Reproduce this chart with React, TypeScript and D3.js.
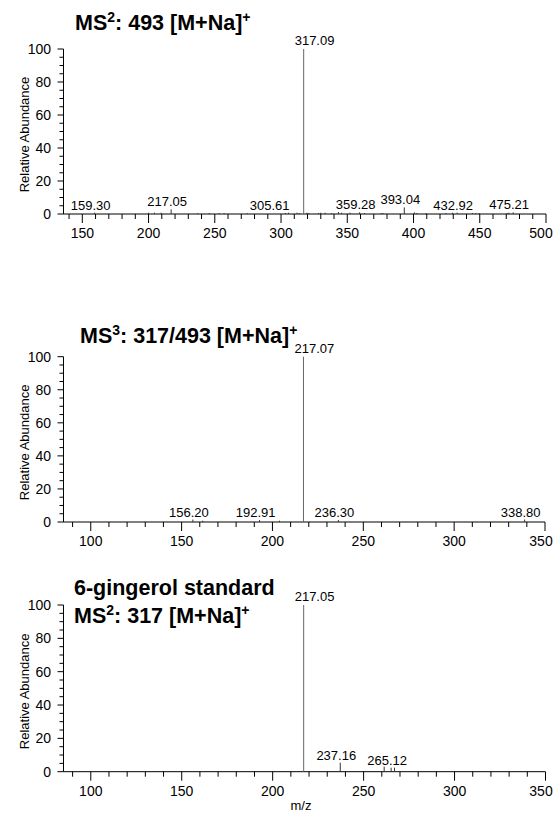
import React from 'react';
import * as d3 from 'd3';

// MS2 of 493 [M+Na]+
const ms2Mz = [159.3, 217.05, 305.61, 317.09, 359.28, 393.04, 432.92, 475.21];
const ms2Abund = [0.8, 2.8, 0.8, 100, 1.0, 4.0, 0.8, 1.0];
const ms2NoiseMz = [200, 204.5, 209.5, 237, 245.8, 253.3, 257, 274.5, 303.3, 312, 313.8, 319.5, 321, 328.3, 330, 333.3, 338.3, 343.3, 345.7, 352, 363, 375.7, 377, 400.7, 402.5, 409.5, 424.5, 429.5, 444.5, 447, 449.5, 470.7, 472];
const ms2NoiseAbund = [0.8, 0.8, 0.8, 0.5, 0.6, 0.6, 0.6, 0.5, 0.6, 0.8, 0.6, 0.8, 0.6, 0.6, 0.8, 0.8, 0.6, 1.2, 0.8, 0.8, 0.6, 0.6, 0.6, 1.0, 0.6, 0.6, 0.6, 0.8, 0.6, 0.6, 0.6, 0.6, 0.8];

// MS3 317/493 [M+Na]+
const ms3Mz = [156.2, 192.91, 217.07, 236.3, 338.8];
const ms3Abund = [1.5, 1.2, 100, 1.2, 1.5];
const ms3NoiseMz = [161.6, 203.9];
const ms3NoiseAbund = [0.8, 0.8];

// 6-gingerol standard MS2 317
const stdMz = [217.05, 237.16, 265.12];
const stdAbund = [100, 5.4, 2.4];
const stdNoiseMz = [261.3, 267.0];
const stdNoiseAbund = [3.0, 2.4];

const ms2XTicks = [150, 200, 250, 300, 350, 400, 450, 500];
const ms3XTicks = [100, 150, 200, 250, 300, 350];
const yTicks = [0, 20, 40, 60, 80, 100];

const FONT = 'Liberation Sans, Arial, Helvetica, sans-serif';

type PanelProps = {
  top: number;
  bottom: number;
  domain: [number, number];
  range: [number, number];
  majorTicks: number[];
  mz: number[];
  abund: number[];
  noiseMz: number[];
  noiseAbund: number[];
};

const Panel = ({ top, bottom, domain, range, majorTicks, mz, abund, noiseMz, noiseAbund }: PanelProps) => {
  const x = d3.scaleLinear().domain(domain).range(range);
  const y = d3.scaleLinear().domain([0, 100]).range([bottom, top]);
  const minorX = d3.range(Math.ceil(domain[0] / 10) * 10, domain[1] + 1, 10).filter(v => v % 50 !== 0);
  const minorY = d3.range(0, 101, 5).filter(v => v % 20 !== 0);
  const baseIdx = d3.maxIndex(abund);
  const bx = x(mz[baseIdx]);

  const labelX = (i: number) => {
    const w = 40;
    let cx = x(mz[i]) - 4;
    if (bx > cx - w / 2 - 3 && bx < cx + w / 2 + 3) {
      cx = cx < bx ? bx - w / 2 - 14 : bx + w / 2 + 14;
    }
    return cx;
  };

  // keep the last tick label inside the page
  const tickLabelX = (t: number) => Math.min(x(t), 553 - 12);

  return (
    <g>
      {/* axes */}
      <line x1={range[0]} x2={range[0]} y1={top} y2={bottom} stroke="#000" />
      <line x1={range[0]} x2={range[1]} y1={bottom} y2={bottom} stroke="#000" />
      {yTicks.map(t => (
        <g key={'y' + t}>
          <line x1={range[0] - 6} x2={range[0]} y1={y(t)} y2={y(t)} stroke="#000" />
          <text x={51} y={y(t)} dy="0.36em" textAnchor="end" fontSize={14} fontFamily={FONT}>{t}</text>
        </g>
      ))}
      {minorY.map(t => (
        <line key={'my' + t} x1={range[0] - 4} x2={range[0]} y1={y(t)} y2={y(t)} stroke="#000" />
      ))}
      {majorTicks.map(t => (
        <g key={'x' + t}>
          <line x1={x(t)} x2={x(t)} y1={bottom} y2={bottom + 9} stroke="#000" />
          <text x={tickLabelX(t)} y={bottom + 24} textAnchor="middle" fontSize={14} fontFamily={FONT}>{t}</text>
        </g>
      ))}
      {minorX.map(t => (
        <line key={'mx' + t} x1={x(t)} x2={x(t)} y1={bottom} y2={bottom + 5} stroke="#000" />
      ))}
      <text
        transform={`translate(29,${(top + bottom) / 2 + 3}) rotate(-90)`}
        textAnchor="middle"
        fontSize={13}
        fontFamily={FONT}
      >
        Relative Abundance
      </text>

      {/* peaks */}
      {noiseMz.map((m, i) => (
        <line key={'n' + i} x1={x(m)} x2={x(m)} y1={bottom} y2={y(noiseAbund[i])} stroke="#333" />
      ))}
      {mz.map((m, i) => (
        <line
          key={'p' + i}
          x1={x(m)}
          x2={x(m)}
          y1={bottom}
          y2={y(abund[i])}
          stroke={i === baseIdx ? '#666' : '#333'}
        />
      ))}
      {mz.map((m, i) =>
        i === baseIdx ? (
          <text key={'l' + i} x={bx - 9} y={y(abund[i]) - 4} fontSize={13} fontFamily={FONT}>
            {m.toFixed(2)}
          </text>
        ) : (
          <text key={'l' + i} x={labelX(i)} y={y(abund[i]) - 3} textAnchor="middle" fontSize={13} fontFamily={FONT}>
            {m.toFixed(2)}
          </text>
        )
      )}
    </g>
  );
};

const Sup = ({ children }: { children: string }) => (
  <tspan fontSize={14} dy={-8}>{children}</tspan>
);

const App = () => {
  const titleStyle = { fontSize: 21.5, fontWeight: 700, fontFamily: FONT };
  return (
    <div style={{ position: 'absolute', left: 0, top: 0 }}>
      <svg width={555} height={816} style={{ display: 'block', background: '#fff' }}>
        <text x={75} y={30} style={titleStyle}>
          MS<Sup>2</Sup><tspan dy={8}>: 493 [M+Na]</tspan><Sup>+</Sup>
        </text>
        <Panel
          top={49}
          bottom={214}
          domain={[135.8, 500]}
          range={[63.5, 546]}
          majorTicks={ms2XTicks}
          mz={ms2Mz}
          abund={ms2Abund}
          noiseMz={ms2NoiseMz}
          noiseAbund={ms2NoiseAbund}
        />

        <text x={80} y={343} style={titleStyle}>
          MS<Sup>3</Sup><tspan dy={8}>: 317/493 [M+Na]</tspan><Sup>+</Sup>
        </text>
        <Panel
          top={356.7}
          bottom={522}
          domain={[85, 350]}
          range={[63.5, 545]}
          majorTicks={ms3XTicks}
          mz={ms3Mz}
          abund={ms3Abund}
          noiseMz={ms3NoiseMz}
          noiseAbund={ms3NoiseAbund}
        />

        <text x={74} y={595} style={titleStyle}>6-gingerol standard</text>
        <text x={74} y={622.7} style={titleStyle}>
          MS<Sup>2</Sup><tspan dy={8}>: 317 [M+Na]</tspan><Sup>+</Sup>
        </text>
        <Panel
          top={605}
          bottom={771.7}
          domain={[85, 350]}
          range={[63.5, 545.5]}
          majorTicks={ms3XTicks}
          mz={stdMz}
          abund={stdAbund}
          noiseMz={stdNoiseMz}
          noiseAbund={stdNoiseAbund}
        />
        <text x={301} y={810} textAnchor="middle" fontSize={13} fontFamily={FONT}>m/z</text>
      </svg>
    </div>
  );
};

export default App;
